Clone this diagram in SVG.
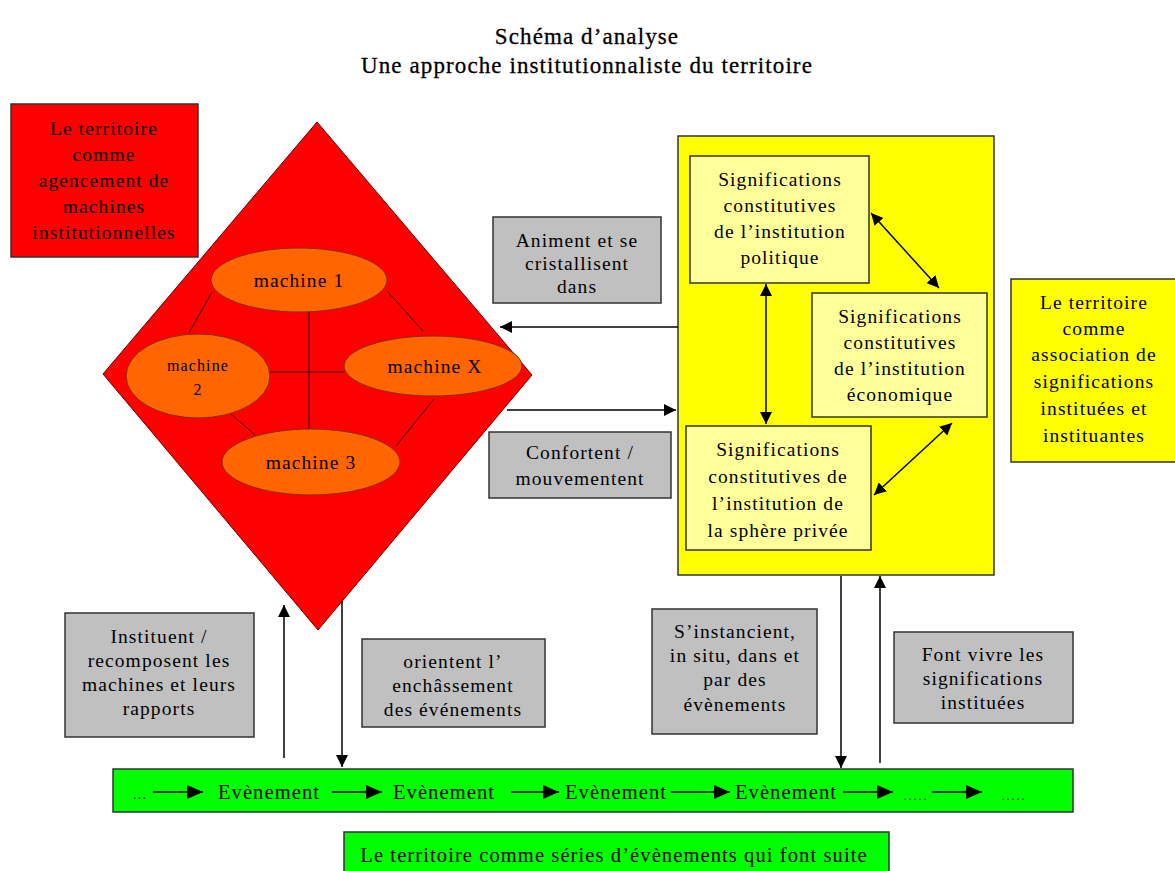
<svg xmlns="http://www.w3.org/2000/svg" width="1175" height="871" viewBox="0 0 1175 871">
<defs>
<style>
text{font-family:"Liberation Serif","Times New Roman",serif;fill:#000;text-anchor:middle;font-size:19.5px;letter-spacing:1.1px}
.title{font-size:23px;letter-spacing:1.1px;stroke:#000;stroke-width:0.3}
.box{stroke:#333;stroke-width:1.5}
.red{fill:#ff0000}
.gray{fill:#c0c0c0}
.yel{fill:#ffff00}
.lyel{fill:#ffff99}
.grn{fill:#00ff00}
.ell{fill:#ff6600;stroke:#8a2a00;stroke-width:1}
.ln{stroke:#000;stroke-width:1.5;fill:none}
.thin{stroke:#300;stroke-width:1;fill:none}
.ev{font-size:20.5px}
</style>
<marker id="ah" viewBox="0 0 12 12" refX="12" refY="6" markerWidth="12" markerHeight="12" markerUnits="userSpaceOnUse" orient="auto-start-reverse">
<path d="M0,0 L12,6 L0,12 Z" fill="#000"/>
</marker>
<marker id="ahb" viewBox="0 0 16 14" refX="16" refY="7" markerWidth="16" markerHeight="14" markerUnits="userSpaceOnUse" orient="auto">
<path d="M0,0 L16,7 L0,14 Z" fill="#000"/>
</marker>
</defs>
<rect width="1175" height="871" fill="#fff"/>

<g id="title">
<text class="title" x="587" y="44">Schéma d’analyse</text>
<text class="title" x="587" y="73">Une approche institutionnaliste du territoire</text>
</g>

<g id="diamond">
<polygon points="317,122 532,375 318,630 103,374" class="red" stroke="#600" stroke-width="1"/>
</g>

<g id="machine-links">
<line class="thin" x1="309" y1="312" x2="309" y2="429"/>
<line class="thin" x1="270" y1="372" x2="344" y2="372"/>
<line class="thin" x1="212" y1="292" x2="189" y2="333"/>
<line class="thin" x1="387" y1="291" x2="423" y2="331"/>
<line class="thin" x1="231" y1="414" x2="255" y2="435"/>
<line class="thin" x1="434" y1="399" x2="396" y2="446"/>
</g>

<g id="machine1"><ellipse class="ell" cx="299" cy="280" rx="88" ry="32"/><text x="299" y="287">machine 1</text></g>
<g id="machine2"><ellipse class="ell" cx="198" cy="376" rx="72" ry="42"/><text x="198" y="371" style="font-size:16px">machine</text><text x="198" y="395" style="font-size:16px">2</text></g>
<g id="machineX"><ellipse class="ell" cx="433" cy="366" rx="89" ry="30"/><text x="435" y="373">machine X</text></g>
<g id="machine3"><ellipse class="ell" cx="311" cy="462" rx="89" ry="33"/><text x="311" y="469">machine 3</text></g>

<g id="red-label">
<rect class="box red" x="11" y="104" width="187" height="153"/>
<text x="104" y="135">Le territoire</text>
<text x="104" y="161">comme</text>
<text x="104" y="187">agencement de</text>
<text x="104" y="213">machines</text>
<text x="104" y="239">institutionnelles</text>
</g>

<g id="animent">
<rect class="box gray" x="493" y="217" width="168" height="86"/>
<text x="577" y="247">Animent et se</text>
<text x="577" y="270">cristallisent</text>
<text x="577" y="293">dans</text>
</g>

<g id="confortent">
<rect class="box gray" x="489" y="432" width="182" height="66"/>
<text x="580" y="459">Confortent /</text>
<text x="580" y="485">mouvementent</text>
</g>

<g id="yellow-frame">
<rect class="box yel" x="678" y="136" width="316" height="439"/>
</g>

<g id="sig-politique">
<rect class="box lyel" x="690" y="156" width="179" height="127"/>
<text x="780" y="186">Significations</text>
<text x="780" y="212">constitutives</text>
<text x="780" y="238">de l’institution</text>
<text x="780" y="264">politique</text>
</g>

<g id="sig-economique">
<rect class="box lyel" x="812" y="293" width="175" height="124"/>
<text x="900" y="323">Significations</text>
<text x="900" y="349">constitutives</text>
<text x="900" y="375">de l’institution</text>
<text x="900" y="401">économique</text>
</g>

<g id="sig-privee">
<rect class="box lyel" x="686" y="426" width="185" height="124"/>
<text x="778" y="456">Significations</text>
<text x="778" y="483">constitutives de</text>
<text x="778" y="510">l’institution  de</text>
<text x="778" y="537">la sphère privée</text>
</g>

<g id="yellow-label">
<rect class="box yel" x="1011" y="279" width="170" height="183"/>
<text x="1094" y="309">Le territoire</text>
<text x="1094" y="335">comme</text>
<text x="1094" y="361">association de</text>
<text x="1094" y="388">significations</text>
<text x="1094" y="415">instituées et</text>
<text x="1094" y="442">instituantes</text>
</g>

<g id="instituent">
<rect class="box gray" x="65" y="613" width="189" height="124"/>
<text x="159" y="643">Instituent /</text>
<text x="159" y="667">recomposent les</text>
<text x="159" y="691">machines et leurs</text>
<text x="159" y="715">rapports</text>
</g>

<g id="orientent">
<rect class="box gray" x="362" y="639" width="183" height="88"/>
<text x="453" y="668">orientent l’</text>
<text x="453" y="692">enchâssement</text>
<text x="453" y="716">des événements</text>
</g>

<g id="instancient">
<rect class="box gray" x="652" y="609" width="165" height="125"/>
<text x="735" y="638">S’instancient,</text>
<text x="735" y="662">in situ, dans et</text>
<text x="735" y="686">par des</text>
<text x="735" y="711">évènements</text>
</g>

<g id="fontvivre">
<rect class="box gray" x="894" y="632" width="179" height="91"/>
<text x="983" y="661">Font vivre les</text>
<text x="983" y="685">significations</text>
<text x="983" y="709">instituées</text>
</g>

<g id="events">
<rect class="box grn" x="113" y="769" width="960" height="43"/>
<text x="140" y="799" style="font-size:14px">…</text>
<text class="ev" x="269" y="799">Evènement</text>
<text class="ev" x="444" y="799">Evènement</text>
<text class="ev" x="616" y="799">Evènement</text>
<text class="ev" x="786" y="799">Evènement</text>
<text x="916" y="800" style="font-size:12px;letter-spacing:2px">.....</text>
<text x="1014" y="800" style="font-size:12px;letter-spacing:2px">.....</text>
</g>

<g id="series-label">
<rect class="box grn" x="344" y="832" width="545" height="45"/>
<text x="614" y="862" style="font-size:20.5px">Le territoire comme séries d’évènements qui font suite</text>
</g>

<g id="connectors">
<line class="ln" x1="678" y1="327" x2="500" y2="327" marker-end="url(#ah)"/>
<line class="ln" x1="507" y1="410" x2="676" y2="410" marker-end="url(#ah)"/>
<line class="ln" x1="766" y1="284" x2="766" y2="424" marker-start="url(#ah)" marker-end="url(#ah)"/>
<line class="ln" x1="871" y1="213" x2="939" y2="288" marker-start="url(#ah)" marker-end="url(#ah)"/>
<line class="ln" x1="952" y1="423" x2="874" y2="495" marker-start="url(#ah)" marker-end="url(#ah)"/>
<line class="ln" x1="284" y1="758" x2="284" y2="605" marker-end="url(#ah)"/>
<line class="ln" x1="342" y1="601" x2="342" y2="767" marker-end="url(#ah)"/>
<line class="ln" x1="841" y1="576" x2="841" y2="768" marker-end="url(#ah)"/>
<line class="ln" x1="880" y1="763" x2="880" y2="576" marker-end="url(#ah)"/>
<line class="ln" x1="153" y1="792" x2="203" y2="792" marker-end="url(#ahb)"/>
<line class="ln" x1="332" y1="792" x2="382" y2="792" marker-end="url(#ahb)"/>
<line class="ln" x1="511" y1="792" x2="559" y2="792" marker-end="url(#ahb)"/>
<line class="ln" x1="671" y1="792" x2="730" y2="792" marker-end="url(#ahb)"/>
<line class="ln" x1="843" y1="792" x2="893" y2="792" marker-end="url(#ahb)"/>
<line class="ln" x1="932" y1="792" x2="982" y2="792" marker-end="url(#ahb)"/>
</g>
</svg>
